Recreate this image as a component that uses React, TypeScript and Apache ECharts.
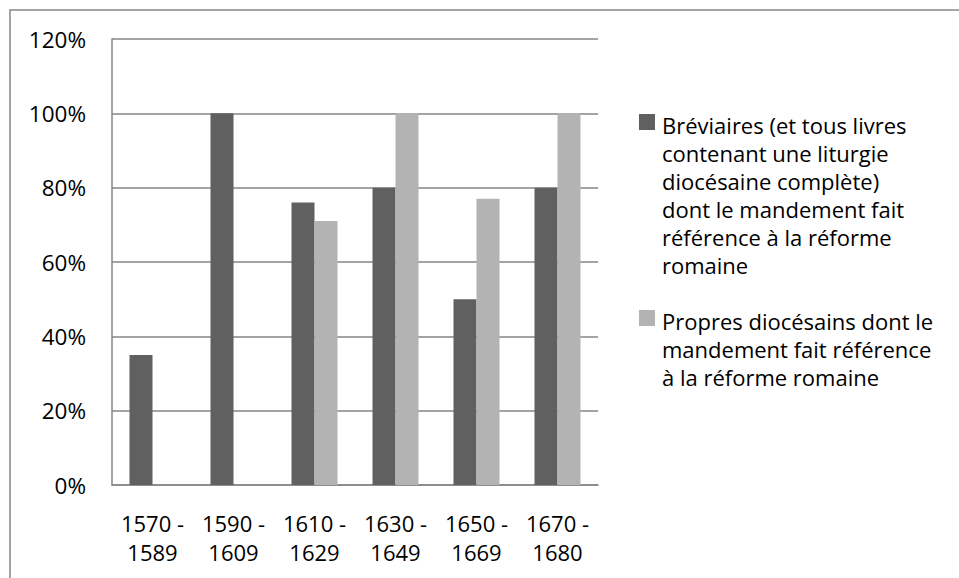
import React, { useEffect, useRef } from "react";
import * as echarts from "echarts";

const categories = ["1570 -\n1589", "1590 -\n1609", "1610 -\n1629", "1630 -\n1649", "1650 -\n1669", "1670 -\n1680"];
const seriesNames = [
  "Bréviaires (et tous livres\ncontenant une liturgie\ndiocésaine complète)\ndont le mandement fait\nréférence à la réforme\nromaine",
  "Propres diocésains dont le\nmandement fait référence\nà la réforme romaine",
];
const breviaires = [35, 100, 76, 80, 50, 80];
const propres = [null, null, 71, 100, 77, 100];
const yTicks = [0, 20, 40, 60, 80, 100, 120];
const colors = ["#606060", "#b3b3b3"];

const FONT = "'Open Sans', sans-serif";

export default function App() {
  const ref = useRef<HTMLDivElement>(null);
  useEffect(() => {
    if (!ref.current) return;
    const chart = echarts.init(ref.current, undefined, { renderer: "svg" });
    const lineH = 28;
    const legendItems = seriesNames.map((name, i) => {
      const top = i === 0 ? 111 : 307;
      return [
        {
          type: "rect",
          shape: { x: 639, y: top + 3, width: 16, height: 16 },
          style: { fill: colors[i] },
        },
        {
          type: "text",
          x: 662,
          y: top,
          style: {
            text: name,
            fill: "#000",
            font: `22px ${FONT}`,
            lineHeight: lineH,
            textVerticalAlign: "top",
          },
        },
      ];
    }).flat();
    chart.setOption({
      animation: false,
      backgroundColor: "#fff",
      grid: { left: 112, top: 39, right: 361, bottom: 93, containLabel: false },
      xAxis: {
        type: "category",
        data: categories,
        axisLine: { show: true, lineStyle: { color: "#868686", width: 1.5 } },
        axisTick: { show: false },
        axisLabel: {
          color: "#000",
          fontFamily: FONT,
          fontSize: 22,
          lineHeight: 29,
          margin: 23,
          interval: 0,
        },
      },
      yAxis: {
        type: "value",
        min: yTicks[0],
        max: yTicks[yTicks.length - 1],
        interval: 20,
        axisLine: { show: true, lineStyle: { color: "#868686", width: 1.5 } },
        axisTick: { show: false },
        splitLine: { show: true, lineStyle: { color: "#868686", width: 1.5 } },
        axisLabel: {
          color: "#000",
          fontFamily: FONT,
          fontSize: 22.5,
          margin: 26,
          formatter: "{value}%",
        },
      },
      series: [
        {
          type: "bar",
          name: seriesNames[0],
          data: breviaires,
          barWidth: 23,
          barGap: "0%",
          itemStyle: { color: colors[0] },
        },
        {
          type: "bar",
          name: seriesNames[1],
          data: propres,
          barWidth: 23,
          barGap: "0%",
          itemStyle: { color: colors[1] },
        },
      ],
      graphic: [
        {
          type: "rect",
          shape: { x: 10, y: 10, width: 1200, height: 1200 },
          style: { fill: "none", stroke: "#868686", lineWidth: 1.5 },
          silent: true,
        },
        ...legendItems,
      ],
    });
    return () => chart.dispose();
  }, []);
  return (
    <div
      ref={ref}
      style={{ position: "fixed", left: 0, top: 0, width: 959, height: 578, background: "#fff" }}
    />
  );
}
